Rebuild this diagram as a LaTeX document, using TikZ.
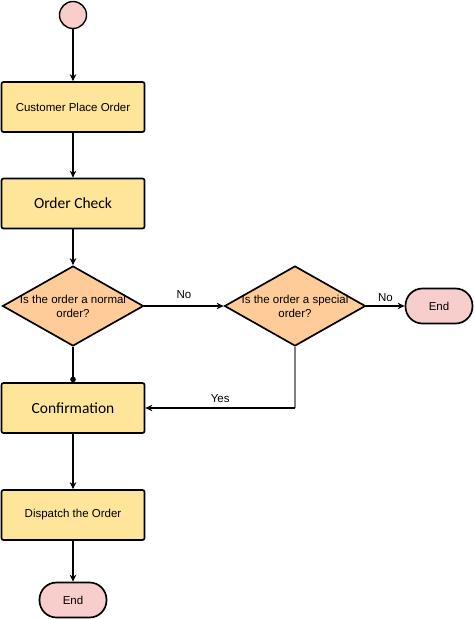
\documentclass[tikz,border=0pt]{standalone}
\usepackage{fontspec}
\setmainfont{Liberation Sans}
\newfontfamily\calfont{Carlito}
\usetikzlibrary{arrows.meta,positioning,shapes.geometric}

\definecolor{taskyellow}{HTML}{FFE599}
\definecolor{checkorange}{HTML}{FFCC99}
\definecolor{termpink}{HTML}{F8CECC}

\begin{document}
\begin{tikzpicture}[-{Stealth[length=7pt,width=6.5pt]}, auto, line width=1.4pt, x=1pt, y=-1pt, font=\fontsize{11.5}{14}\selectfont]
\tikzstyle{task}=[draw,rectangle,rounded corners=2pt,fill=taskyellow,line width=1.7pt,minimum width=143pt,minimum height=50pt,inner sep=0pt]
\tikzstyle{check}=[draw,diamond,fill=checkorange,line width=1.7pt,minimum width=141pt,minimum height=80pt,inner sep=0pt]
\tikzstyle{term}=[draw,rectangle,rounded corners=17pt,fill=termpink,line width=1.7pt,minimum width=67pt,minimum height=35pt]
\tikzstyle{big}=[font=\calfont\fontsize{15.5}{18}\selectfont]
\useasboundingbox (0,0) rectangle (474,619);
\node[circle,draw,fill=termpink,minimum size=27pt,inner sep=0pt,line width=1.4pt] (start) at (73,15) {};
\node[task]    (place)    [node distance=92pt, below of=start]     {Customer Place Order};
\node[task,big](check)    [node distance=96.5pt, below of=place]   {Order Check};
\node[check]   (normal)   [node distance=102.5pt, below of=check,
                           label={[align=center]center:Is the order a normal\\order?}] {};
\node[check]   (special)  [node distance=222pt, right of=normal,
                           label={[align=center]center:Is the order a special\\order?}] {};
\node[term]    (end1)     [node distance=144pt, right of=special]  {End};
\node[task,big](confirm)  [node distance=102pt, below of=normal]   {Confirmation};
\node[task]    (dispatch) [node distance=107pt, below of=confirm]  {Dispatch the Order};
\node[term]    (end2)     [node distance=85pt, below of=dispatch]  {End};
\coordinate (turn) at (special.south |- confirm.east);
\path
(start)    edge                       (place)
(place)    edge                       (check)
(check)    edge                       (normal)
(normal)   edge[-{Circle[length=5.5pt]}] (confirm)
           edge node[yshift=3pt]{No}  (special)
(special)  edge node{No}              (end1)
(confirm)  edge                       (dispatch)
(dispatch) edge                       (end2);
\draw[-,gray] (special) -- (turn);
\draw (turn) -- node[swap,yshift=1pt]{Yes} (confirm);
\end{tikzpicture}
\end{document}
